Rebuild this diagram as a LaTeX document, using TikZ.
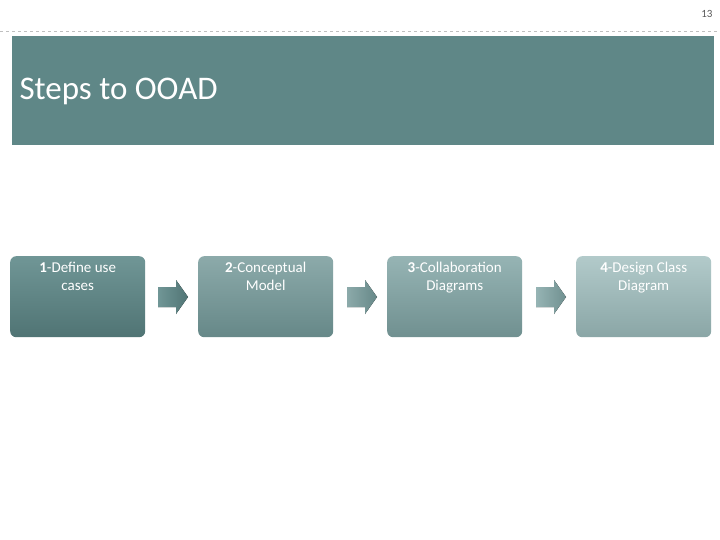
\documentclass[tikz,border=0pt]{standalone}
\usepackage{fontspec}
\setmainfont{Carlito}
\begin{document}
\begin{tikzpicture}[x=1pt,y=-1pt,
  stepbox/.style={rounded corners=6pt,minimum width=135pt,minimum height=81pt,anchor=north west,align=center,text=white,font=\fontsize{15}{18}\selectfont,text depth=0pt,inner sep=2pt},
  arr/.style={single arrow,minimum height=30pt,minimum width=34pt,single arrow head extend=0pt,inner sep=0pt,shape border uses incircle}]
\useasboundingbox (0,0) rectangle (720,540);
\fill[white] (0,0) rectangle (720,540);
\node[text=gray!70!black,font=\fontsize{11}{12}\selectfont,anchor=east] (pg) at (716,14) {13};
\draw[dashed,gray!50] (0,31) -- (720,31);
\fill[color={rgb,255:red,95;green,135;blue,135}] (12,36) rectangle (714,145);
\node[anchor=west,text=white,font=\fontsize{33}{36}\selectfont] (title) at (16,91) {Steps to OOAD};
\definecolor{a1}{RGB}{112,150,150}\definecolor{b1}{RGB}{80,116,116}
\definecolor{a2}{RGB}{140,170,170}\definecolor{b2}{RGB}{102,136,136}
\definecolor{a3}{RGB}{150,180,180}\definecolor{b3}{RGB}{112,144,144}
\definecolor{a4}{RGB}{178,202,202}\definecolor{b4}{RGB}{138,166,166}
\node[stepbox,top color=a1,bottom color=b1] (s1) at (10,256) {\textbf{1}-Define use\\cases\\[22pt]};
\node[stepbox,top color=a2,bottom color=b2] (s2) at (198,256) {\textbf{2}-Conceptual\\Model\\[22pt]};
\node[stepbox,top color=a3,bottom color=b3] (s3) at (387,256) {\textbf{3}-Collaboration\\Diagrams\\[22pt]};
\node[stepbox,top color=a4,bottom color=b4] (s4) at (576,256) {\textbf{4}-Design Class\\Diagram\\[22pt]};
\foreach \i/\x/\ca/\cb in {1/158/a1/b1,2/347/a2/b2,3/536/a3/b3}{
  \fill[left color=\ca,right color=\cb] (\x,287) -- (\x+18,287) -- (\x+18,280) -- (\x+30,297) -- (\x+18,314) -- (\x+18,307) -- (\x,307) -- cycle;
}
\end{tikzpicture}
\end{document}
